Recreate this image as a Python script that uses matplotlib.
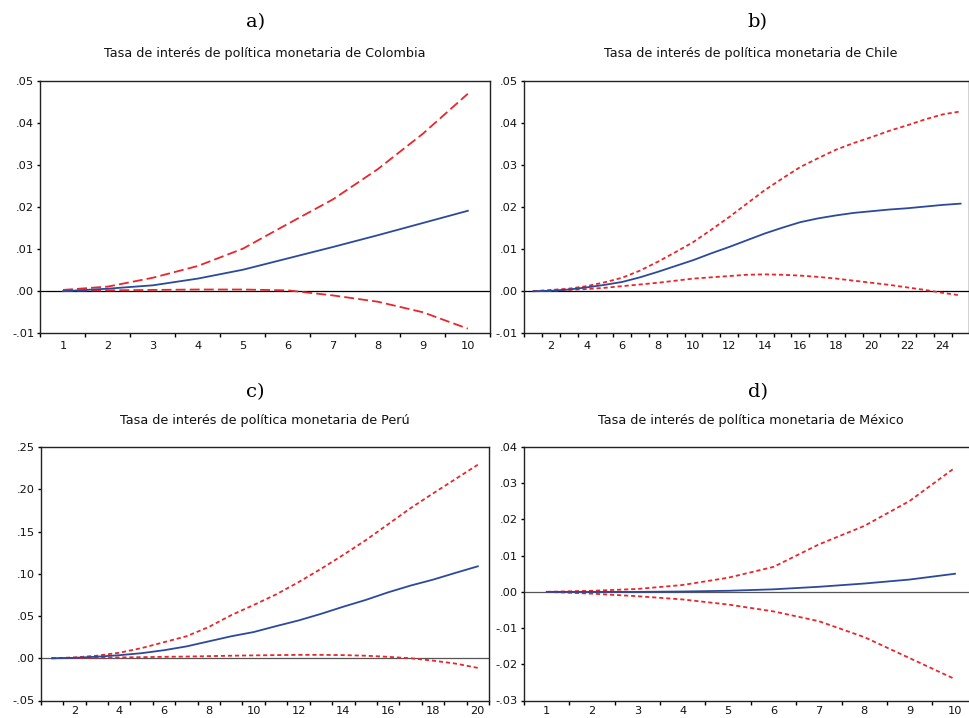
import numpy as np
import matplotlib
matplotlib.use("Agg")
import matplotlib.pyplot as plt
from matplotlib.ticker import FixedLocator, FuncFormatter

# Impulse responses of the policy rate (blue) with bands (red)
# ---------------------------------------------------------------------------
# a) Colombia
mid_col = [0.0000, 0.0006, 0.0014, 0.0030, 0.0051, 0.0078, 0.0105, 0.0133, 0.0162, 0.0191]
up_col  = [0.0003, 0.0011, 0.0032, 0.0060, 0.0101, 0.0160, 0.0218, 0.0290, 0.0374, 0.0469]
lo_col  = [0.0001, 0.0002, 0.0003, 0.0004, 0.0004, 0.0002, -0.0010, -0.0025, -0.0050, -0.0089]

# b) Chile
mid_chl = [0.0000, 0.0001, 0.0004, 0.0009, 0.0015, 0.0022, 0.0033, 0.0046, 0.0060, 0.0074,
           0.0090, 0.0105, 0.0121, 0.0137, 0.0151, 0.0164, 0.0173, 0.0180, 0.0186, 0.0190,
           0.0194, 0.0197, 0.0201, 0.0205, 0.0208]
up_chl  = [0.0000, 0.0003, 0.0006, 0.0012, 0.0021, 0.0032, 0.0049, 0.0070, 0.0093, 0.0117,
           0.0146, 0.0176, 0.0208, 0.0240, 0.0268, 0.0295, 0.0316, 0.0336, 0.0352, 0.0366,
           0.0381, 0.0394, 0.0408, 0.0420, 0.0427]
lo_chl  = [0.0000, 0.0001, 0.0003, 0.0005, 0.0008, 0.0012, 0.0016, 0.0020, 0.0025, 0.0030,
           0.0033, 0.0036, 0.0039, 0.0040, 0.0039, 0.0037, 0.0034, 0.0030, 0.0025, 0.0020,
           0.0015, 0.0009, 0.0003, -0.0004, -0.0010]

# c) Peru
mid_per = [0.0000, 0.0005, 0.0018, 0.0036, 0.0060, 0.0095, 0.0140, 0.0200, 0.0260, 0.0310,
           0.0380, 0.0447, 0.0525, 0.0610, 0.0690, 0.0780, 0.0860, 0.0930, 0.1010, 0.1088]
up_per  = [0.0000, 0.0010, 0.0030, 0.0065, 0.0120, 0.0190, 0.0260, 0.0370, 0.0510, 0.0630,
           0.0755, 0.0900, 0.1057, 0.1223, 0.1397, 0.1586, 0.1776, 0.1950, 0.2120, 0.2290]
lo_per  = [0.0000, 0.0003, 0.0006, 0.0010, 0.0013, 0.0017, 0.0020, 0.0025, 0.0030, 0.0034,
           0.0037, 0.0040, 0.0040, 0.0037, 0.0030, 0.0017, 0.0000, -0.0028, -0.0063, -0.0114]

# d) Mexico
mid_mex = [0.0000, 0.0000, 0.0000, 0.0001, 0.0003, 0.0007, 0.0014, 0.0023, 0.0034, 0.0050]
up_mex  = [0.0000, 0.0003, 0.0008, 0.0019, 0.0039, 0.0069, 0.0131, 0.0182, 0.0251, 0.0343]
lo_mex  = [0.0000, -0.0005, -0.0012, -0.0021, -0.0035, -0.0054, -0.0081, -0.0125, -0.0183, -0.0241]

letters = ['a)', 'b)', 'c)', 'd)']
titles = ['Tasa de interés de política monetaria de Colombia',
          'Tasa de interés de política monetaria de Chile',
          'Tasa de interés de política monetaria de Perú',
          'Tasa de interés de política monetaria de México']
y_ticks = [np.arange(-0.01, 0.0501, 0.01), np.arange(-0.01, 0.0501, 0.01),
           np.arange(-0.05, 0.2501, 0.05), np.arange(-0.03, 0.0401, 0.01)]
x_label_step = [1, 2, 2, 1]

series = [(mid_col, up_col, lo_col), (mid_chl, up_chl, lo_chl),
          (mid_per, up_per, lo_per), (mid_mex, up_mex, lo_mex)]

# ---------------------------------------------------------------------------
W, H = 970, 718
fig = plt.figure(figsize=(W / 100, H / 100), dpi=100)

# axes boxes in pixels: left, top, right, bottom
boxes = [(40.5, 80.7, 490.3, 333.3),
         (524.3, 80.7, 969.5, 333.3),
         (40.7, 447.0, 489.0, 700.5),
         (524.0, 447.0, 977.7, 700.5)]
letter_pos = [(256, 22), (757, 22), (255, 392), (758, 392)]
title_pos = [(265, 54), (751, 54), (265, 420), (751, 420)]
xpad = [5.6, 5.6, 4.0, 4.0]

RED = '#e8262b'
BLUE = '#2b4a9c'
SANS = ['DejaVu Sans']


def fmt(v, pos):
    s = f"{v:.2f}"
    if s.startswith('-0'):
        s = '-' + s[2:]
    elif s.startswith('0'):
        s = s[1:]
    return s


for i in range(4):
    l, t, r, b = boxes[i]
    ax = fig.add_axes([l / W, 1 - b / H, (r - l) / W, (b - t) / H])
    mid, up, lo = series[i]
    x = np.arange(1, len(mid) + 1)

    dash = (0, (5.5, 2.3)) if i == 0 else (0, (2.3, 1.6))
    ax.axhline(0, color='black' if i < 2 else '#555555', lw=0.9, zorder=1)
    ax.plot(x, up, color=RED, lw=1.3, linestyle=dash, zorder=2)
    ax.plot(x, lo, color=RED, lw=1.3, linestyle=dash, zorder=2)
    ax.plot(x, mid, color=BLUE, lw=1.3, zorder=3)

    n = len(mid)
    ax.set_xlim(0.5, n + 0.5)
    ax.set_ylim(y_ticks[i][0], y_ticks[i][-1])

    # x: tick marks between periods, labels on periods
    ax.xaxis.set_minor_locator(FixedLocator(np.arange(0.5, n + 0.6, 1)))
    ax.set_xticks(np.arange(x_label_step[i], n + 1, x_label_step[i]))
    ax.tick_params(axis='x', which='major', length=0, pad=xpad[i])
    ax.tick_params(axis='x', which='minor', length=3, width=1, direction='out')

    ax.set_yticks(y_ticks[i])
    ax.yaxis.set_major_formatter(FuncFormatter(fmt))
    ax.tick_params(axis='y', length=2.5, width=1, direction='out', pad=2)

    for lab in ax.get_xticklabels() + ax.get_yticklabels():
        lab.set_family(SANS)
        lab.set_fontsize(8.2)
        lab.set_color('#111111')

    for sp in ax.spines.values():
        sp.set_linewidth(1.0)
        sp.set_color('#222222')

    fig.text(letter_pos[i][0] / W, 1 - letter_pos[i][1] / H, letters[i],
             family=['DejaVu Serif'], fontsize=14, ha='center', va='center')
    fig.text(title_pos[i][0] / W, 1 - title_pos[i][1] / H, titles[i],
             family=SANS, fontsize=9.2, ha='center', va='center', color='#111111')

fig.savefig('out.png', dpi=100)
